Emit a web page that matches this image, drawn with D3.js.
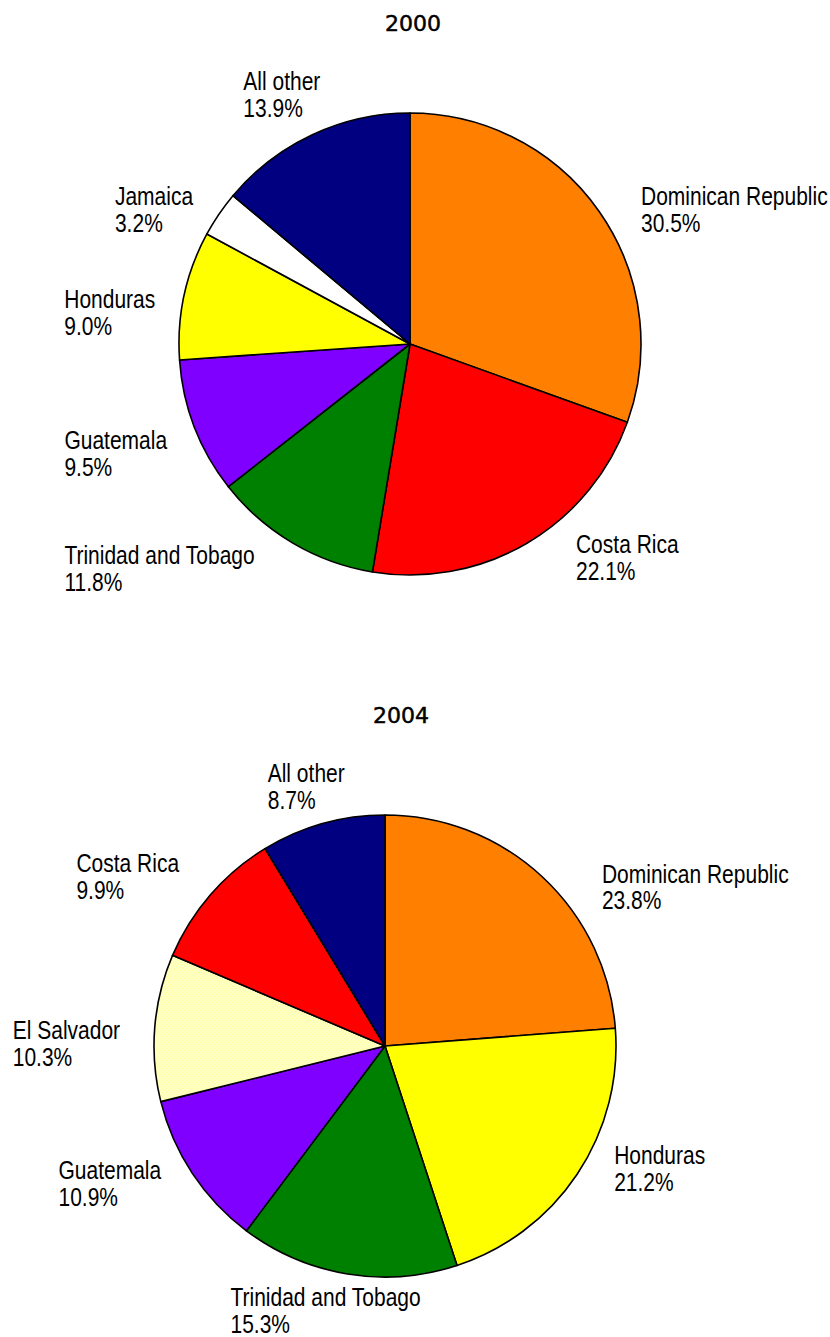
<!DOCTYPE html>
<html>
<head>
<meta charset="utf-8">
<script src="https://cdn.jsdelivr.net/npm/d3@7"></script>
<style>
  body { margin: 0; background: #fff; }
  svg { display: block; }
</style>
</head>
<body>
<svg></svg>
<script>
// data (share of total, %)
const countries2000 = ["Dominican Republic", "Costa Rica", "Trinidad and Tobago", "Guatemala", "Honduras", "Jamaica", "All other"];
const shares2000 = [30.5, 22.1, 11.8, 9.5, 9.0, 3.2, 13.9];

const countries2004 = ["Dominican Republic", "Honduras", "Trinidad and Tobago", "Guatemala", "El Salvador", "Costa Rica", "All other"];
const shares2004 = [23.8, 21.2, 15.3, 10.9, 10.3, 9.9, 8.7];

// label offsets from the slice's mid point on the rim (text left, first baseline)
const labelShift2000 = [[42, -6], [49, 10], [-228, 21], [-130, 22], [-120, 13], [-104, -9], [-69, -45]];
const labelShift2004 = [[60, 6], [37, -10], [-117, 32], [-134, 5], [-142, 11], [-134, -23], [-55, -42]];

const colors = {
  "Dominican Republic": "#ff8000",
  "Costa Rica": "#ff0000",
  "Trinidad and Tobago": "#008000",
  "Guatemala": "#8000ff",
  "Honduras": "#ffff00",
  "Jamaica": "#ffffff",
  "All other": "#000080",
  "El Salvador": "url(#hatchYellow)"
};

const width = 830, height = 1337;
const radius = 231;
const labelFont = "'Liberation Sans Narrow', 'Arial Narrow', 'Liberation Sans', Arial, sans-serif";
const labelSize = 25;

const svg = d3.select("svg").attr("width", width).attr("height", height);

// light yellow hatch used for El Salvador
const defs = svg.append("defs");
const pat = defs.append("pattern")
  .attr("id", "hatchYellow")
  .attr("patternUnits", "userSpaceOnUse")
  .attr("width", 4).attr("height", 4);
pat.append("rect").attr("width", 4).attr("height", 4).attr("fill", "#ffffc4");
pat.append("path").attr("d", "M-1,1 l2,-2 M0,4 l4,-4 M3,5 l2,-2")
  .attr("stroke", "#ffff9c").attr("stroke-width", 0.8);

// is a narrow face installed? compare against a monospace fallback
const probe = svg.append("text").attr("font-size", labelSize).text("Trinidad and Tobago");
probe.attr("font-family", "'Liberation Sans Narrow', 'Arial Narrow', monospace");
const wNarrow = probe.node().getComputedTextLength();
probe.attr("font-family", "monospace");
const wMono = probe.node().getComputedTextLength();
probe.remove();
const squeeze = Math.abs(wNarrow - wMono) < 1 ? 0.84 : 1;

const pie = d3.pie().sort(null).value(d => d.value);
const arc = d3.arc().innerRadius(0).outerRadius(radius);
const rim = d3.arc().innerRadius(radius).outerRadius(radius);

function drawPie(title, titleX, titleY, cx, cy, names, values, shifts) {
  svg.append("text")
    .attr("x", titleX).attr("y", titleY)
    .attr("text-anchor", "middle")
    .attr("font-family", "'DejaVu Sans', Verdana, sans-serif")
    .attr("font-size", 22)
    .attr("fill", "#000")
    .attr("stroke", "#000")
    .attr("stroke-width", 0.5)
    .text(title);

  const rows = names.map((n, i) => ({ name: n, value: values[i] }));
  const g = svg.append("g").attr("transform", `translate(${cx},${cy})`);
  const slices = pie(rows);

  g.selectAll("path")
    .data(slices)
    .join("path")
    .attr("d", arc)
    .attr("fill", d => colors[d.data.name])
    .attr("stroke", "#000")
    .attr("stroke-width", 1.6)
    .attr("stroke-linejoin", "round");

  const labels = g.selectAll("g.lab")
    .data(slices)
    .join("g")
    .attr("class", "lab")
    .attr("transform", (d, i) => {
      const [x, y] = rim.centroid(d);
      return `translate(${x + shifts[i][0]},${y + shifts[i][1]}) scale(${squeeze},1)`;
    });

  const txt = labels.append("text")
    .attr("font-family", labelFont)
    .attr("font-size", labelSize)
    .attr("fill", "#000");
  txt.append("tspan").attr("x", 0).attr("y", 0).text(d => d.data.name);
  txt.append("tspan").attr("x", 0).attr("y", 27).text(d => d.data.value.toFixed(1) + "%");
}

drawPie("2000", 413, 31, 410, 344, countries2000, shares2000, labelShift2000);
drawPie("2004", 401, 723, 385, 1046, countries2004, shares2004, labelShift2004);
</script>
</body>
</html>
